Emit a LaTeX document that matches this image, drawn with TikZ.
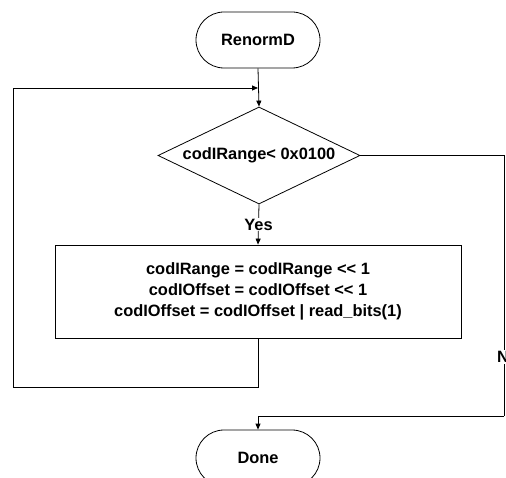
\documentclass[tikz,border=0pt]{standalone}
\usepackage{fontspec}
\setmainfont{Liberation Sans}
\usetikzlibrary{shapes.misc,shapes.geometric,arrows.meta}
\begin{document}
\begin{tikzpicture}[x=1pt,y=-1pt,
  every node/.style={font=\fontsize{16.4}{21}\selectfont\bfseries},
  term/.style={draw,rounded rectangle,minimum width=124pt,minimum height=56pt,line width=0.8pt,inner sep=0pt},
  dec/.style={draw,diamond,aspect=2.08,minimum width=202pt,minimum height=97pt,inner sep=0pt,line width=0.8pt},
  proc/.style={draw,rectangle,minimum width=406pt,minimum height=93pt,line width=0.8pt,align=center,inner sep=0pt},
  lbl/.style={fill=white,inner sep=1pt},
  conn/.style={line width=0.8pt,-{Triangle[length=6pt,width=5pt]}},
  plain/.style={line width=0.8pt}]
\useasboundingbox (0,0) rectangle (506,478);
\node[term] (start) at (258,40) {RenormD};
\node[dec] (cond) at (259,155.5) {codIRange< 0x0100};
\node[proc] (body) at (258,291.5) {codIRange = codIRange <{}< 1\\codIOffset = codIOffset <{}< 1\\codIOffset = codIOffset | read\_bits(1)};
\node[term] (done) at (258,458) {Done};
\coordinate (merge) at (258,88);
\coordinate (lb) at (258,387);
\coordinate (lbl) at (13,387);
\coordinate (ltl) at (13,88);
\coordinate (nr) at (504,155.5);
\coordinate (nb) at (504,416);
\coordinate (nm) at (258,416);
\draw[conn] (start.south) -- (cond.north);
\draw[conn] (cond.south) -- node[lbl,pos=0.5]{Yes} (body.north);
\draw[conn] (body.south) -- (lb) -- (lbl) -- (ltl) -- (merge);
\draw[plain] (cond.east) -- (nr) -- (nb);
\draw[conn] (nb) -- (nm) -- (done.north);
\node[lbl] at (508,357) {No};
\end{tikzpicture}
\end{document}
